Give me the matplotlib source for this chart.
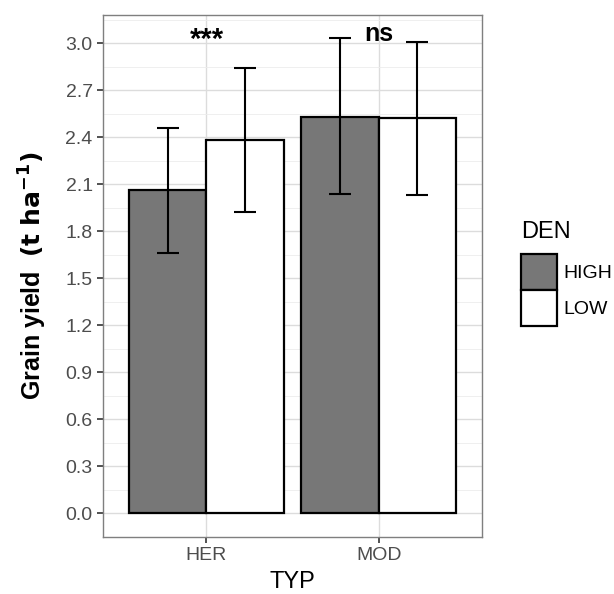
import matplotlib
matplotlib.use("Agg")
import matplotlib.pyplot as plt
import numpy as np
from matplotlib.patches import Patch

# data
types = ["HER", "MOD"]
density = ["HIGH", "LOW"]
means = {"HIGH": [2.06, 2.53], "LOW": [2.38, 2.52]}
lower = {"HIGH": [1.66, 2.04], "LOW": [1.92, 2.03]}
upper = {"HIGH": [2.46, 3.03], "LOW": [2.84, 3.01]}
signif = ["***", "ns"]
signif_y = [3.02, 3.06]
fills = {"HIGH": "#777777", "LOW": "#ffffff"}

plt.rcParams["font.family"] = ["Liberation Sans", "DejaVu Sans"]

fig = plt.figure(figsize=(6.14, 5.94), dpi=100)
ax = fig.add_axes([0.168, 0.096, 0.617, 0.879])

x = np.arange(1, len(types) + 1)
width = 0.45
for k, d in enumerate(density):
    pos = x + (k - 0.5) * width
    ax.bar(pos, means[d], width=width, color=fills[d], edgecolor="black",
           linewidth=1.6, zorder=3)
    m = np.array(means[d])
    yerr = [m - np.array(lower[d]), np.array(upper[d]) - m]
    ax.errorbar(pos, m, yerr=yerr, fmt="none", ecolor="black",
                elinewidth=1.5, capsize=8, capthick=1.5, zorder=4)

for i, s in enumerate(signif):
    fs = 18 if s == "ns" else 21
    ax.text(x[i], signif_y[i], s, ha="center", va="center",
            fontsize=fs, fontweight="bold", zorder=5)

ax.set_xlim(0.4, 2.6)
ax.set_ylim(-0.15, 3.18)
ax.set_xticks(x)
ax.set_xticklabels(types)
ax.set_yticks(np.arange(0, 3.01, 0.3))
ax.set_yticklabels([f"{v:.1f}" for v in np.arange(0, 3.01, 0.3)])
ax.set_yticks(np.arange(0.15, 3.18, 0.3), minor=True)

ax.grid(True, which="major", color="#dcdcdc", linewidth=1.0, zorder=0)
ax.grid(True, which="minor", axis="y", color="#ececec", linewidth=0.6, zorder=0)
ax.set_axisbelow(True)

for sp in ax.spines.values():
    sp.set_color("#7f7f7f")
    sp.set_linewidth(1.0)

ax.tick_params(axis="both", which="major", labelsize=14, labelcolor="#4d4d4d",
               color="#333333", length=4, width=1.2)
ax.tick_params(axis="y", which="minor", length=0)

ax.set_xlabel("TYP", fontsize=17, labelpad=5)
ax.set_ylabel(r"Grain yield  $\mathbf{(t\ ha^{-1})}$", fontsize=18,
              fontweight="bold", labelpad=12)

handles = [Patch(facecolor=fills[d], edgecolor="black", linewidth=1.6) for d in density]
leg = fig.legend(handles, density, title="DEN", loc="upper left",
                 bbox_to_anchor=(0.848, 0.628), frameon=False, fontsize=14,
                 title_fontsize=17, handlelength=1.85, handleheight=2.48,
                 handletextpad=0.35, labelspacing=0.0, borderaxespad=0,
                 borderpad=0)
leg._legend_box.align = "left"
leg._legend_box.sep = 8

fig.savefig("out.png", dpi=100)
